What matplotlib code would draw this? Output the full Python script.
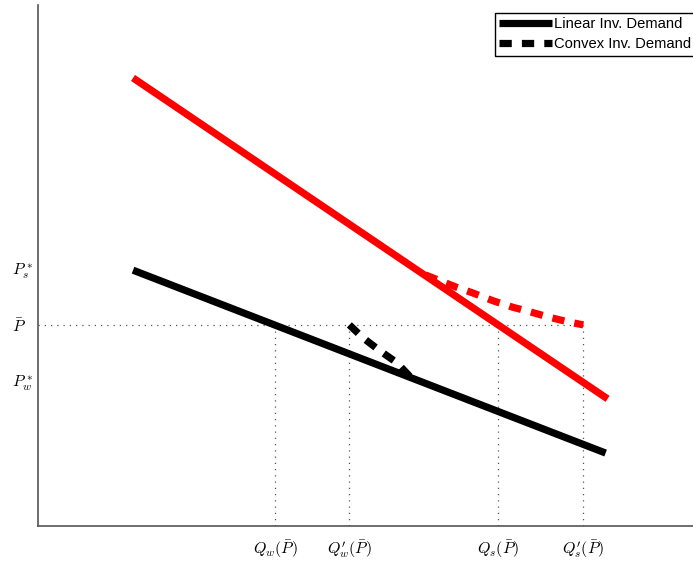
import numpy as np
import matplotlib
matplotlib.use('Agg')
import matplotlib.pyplot as plt

plt.rcParams['mathtext.fontset'] = 'cm'

# price levels
p_bar = 3.86
p_s_star = 4.95
p_w_star = 2.80

# quantities at p_bar
q_w = 3.62
q_w_prime = 4.75
q_s = 7.02
q_s_prime = 8.32

# linear inverse demand (supply side, red) and (waiting side, black)
red_lin_q = [1.45, 8.69]
red_lin_p = [8.60, 2.44]
blk_lin_q = [1.45, 8.66]
blk_lin_p = [4.91, 1.40]

# convex inverse demand pieces
red_cvx_q = [5.91, 6.37, 6.64, 6.95, 7.24, 7.51, 7.79, 8.08, 8.32]
red_cvx_p = [4.82, 4.59, 4.47, 4.32, 4.20, 4.11, 4.01, 3.92, 3.86]
blk_cvx_q = [4.75, 4.96, 5.22, 5.48, 5.68]
blk_cvx_p = [3.86, 3.61, 3.36, 3.13, 2.86]

xtick_pos = [q_w, q_w_prime, q_s, q_s_prime]
xtick_labels = [r'$Q_w(\bar{P})$', r"$Q_w^{\prime}(\bar{P})$", r'$Q_s(\bar{P})$', r"$Q_s^{\prime}(\bar{P})$"]
ytick_pos = [p_w_star, p_bar, p_s_star]
ytick_labels = [r'$P_w^*$', r'$\bar{P}$', r'$P_s^*$']

fig = plt.figure(figsize=(6.93, 5.64), dpi=100)
ax = fig.add_axes([38/693, 38/564, 662/693, 521/564])

# reference lines
dot = dict(color='#555555', linestyle=(0, (1, 4)), linewidth=0.9)
ax.plot([0, q_s_prime], [p_bar, p_bar], **dot)
for q in xtick_pos:
    ax.plot([q, q], [0, p_bar], **dot)

lw = 5.2
ax.plot(red_lin_q, red_lin_p, color='red', linewidth=lw, solid_capstyle='butt')
ax.plot(blk_lin_q, blk_lin_p, color='black', linewidth=lw, solid_capstyle='butt',
        label='Linear Inv. Demand')
ax.plot(red_cvx_q, red_cvx_p, color='red', linewidth=lw, linestyle=(0, (1.7, 1.4)),
        dash_capstyle='butt')
ax.plot(blk_cvx_q, blk_cvx_p, color='black', linewidth=lw, linestyle=(0, (1.7, 1.4)),
        dash_capstyle='butt', label='Convex Inv. Demand')

ax.set_xlim(0, 10.1)
ax.set_ylim(0, 10.0)
ax.set_xticks(xtick_pos)
ax.set_xticklabels(xtick_labels, fontsize=11.5)
ax.set_yticks(ytick_pos)
ax.set_yticklabels(ytick_labels, fontsize=11.5, ha='left')
ax.tick_params(length=0)
ax.tick_params(axis='x', pad=9)
ax.tick_params(axis='y', pad=19)

for s in ['top', 'right']:
    ax.spines[s].set_visible(False)
for s in ['left', 'bottom']:
    ax.spines[s].set_color('#555555')
    ax.spines[s].set_linewidth(1.2)

leg = ax.legend(loc='upper right', bbox_to_anchor=(0.994, 0.985), borderaxespad=0,
                fancybox=False, framealpha=1, edgecolor='black',
                prop={'family': 'Liberation Sans', 'size': 10.6},
                handlelength=3.6, handletextpad=0.15, borderpad=0.3,
                labelspacing=0.4)
leg.get_frame().set_linewidth(1.0)

fig.savefig('out.png', dpi=100)
